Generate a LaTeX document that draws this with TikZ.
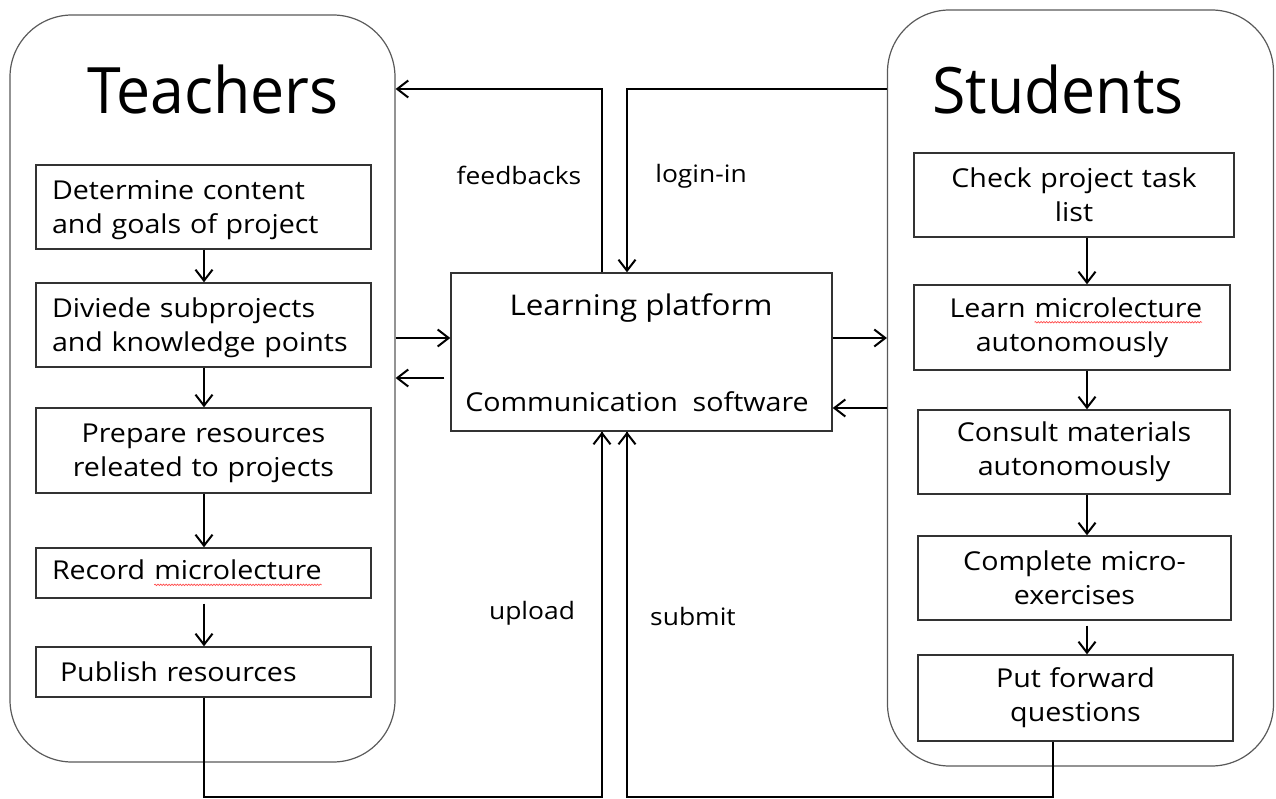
\documentclass[tikz,border=0pt]{standalone}
\usepackage{fontspec}
\setmainfont{Open Sans}[FakeStretch=1.1]
\newfontfamily\headfont{Open Sans}[FakeStretch=0.95]
\usetikzlibrary{arrows.meta,decorations.pathmorphing}

% red wavy spell-check mark under a word
\newcommand\spellmark[1]{\tikz[baseline=(sw.base)]{%
  \node[inner sep=0pt,outer sep=0pt,minimum width=0pt,minimum height=0pt,
        text width=,draw=none,anchor=base](sw){#1};%
  \draw[red!70!white,line width=0.7pt,decorate,
        decoration={snake,amplitude=0.7pt,segment length=2.8pt}]
    ([yshift=-5pt]sw.base west)--([yshift=-5pt]sw.base east);}}

\begin{document}
\begin{tikzpicture}[x=1pt,y=-1pt,
  lane/.style={draw=black!65,line width=1.2pt,rounded corners=62pt,inner sep=0pt},
  title/.style={font=\headfont\fontsize{64}{70}\selectfont,inner sep=0pt},
  stepbox/.style={draw=black!80,line width=1.4pt,inner sep=0pt,
    font=\fontsize{26}{34}\selectfont},
  lbl/.style={font=\fontsize{24}{28}\selectfont,inner sep=0pt},
  conn/.style={line width=2pt,-{Straight Barb[length=11pt,width=17pt,line width=2pt]}},
  wire/.style={line width=2pt}
]
\useasboundingbox (0,0) rectangle (1276,799);

% swimlanes
\node[lane,minimum width=385pt,minimum height=747pt] (teach) at (202.5,388.5) {};
\node[lane,minimum width=386pt,minimum height=756pt] (stud) at (1080.5,388) {};
\node[title] (tt) at (213,90) {Teachers};
\node[title] (st) at (1058,90) {Students};

% teacher steps
\node[stepbox,minimum width=335pt,minimum height=84pt,text width=303pt,
      align=left,inner xsep=16pt] (t1) at (203.5,207)
  {\rule{0pt}{25pt}Determine content\\and goals of project};
\node[stepbox,minimum width=335pt,minimum height=84pt,text width=303pt,
      align=left,inner xsep=16pt] (t2) at (203.5,325)
  {\rule{0pt}{25pt}Diviede subprojects\\and knowledge points};
\node[stepbox,minimum width=335pt,minimum height=85pt,text width=335pt,
      align=center] (t3) at (203.5,450.5)
  {\rule{0pt}{25pt}Prepare resources\\releated to projects};
\node[stepbox,minimum width=335pt,minimum height=50pt,text width=303pt,
      align=left,inner xsep=16pt] (t4) at (203.5,573)
  {Record \spellmark{microlecture}};
\node[stepbox,minimum width=335pt,minimum height=50pt,text width=287pt,
      align=left,inner xsep=24pt] (t5) at (203.5,672)
  {Publish resources};

% student steps
\node[stepbox,minimum width=320pt,minimum height=84pt,text width=320pt,
      align=center] (s1) at (1074,195)
  {Check project task\\list};
\node[stepbox,minimum width=316pt,minimum height=85pt,text width=316pt,
      align=center] (s2) at (1072,327.5)
  {\hspace*{8pt}Learn \spellmark{microlecture}\\autonomously};
\node[stepbox,minimum width=312pt,minimum height=84pt,text width=312pt,
      align=center] (s3) at (1074,452)
  {Consult materials\\autonomously};
\node[stepbox,minimum width=313pt,minimum height=84pt,text width=313pt,
      align=center] (s4) at (1074.5,578)
  {Complete micro-\\exercises};
\node[stepbox,minimum width=315pt,minimum height=86pt,text width=315pt,
      align=center] (s5) at (1075.5,698)
  {Put forward\\questions};

% platform
\node[stepbox,minimum width=381pt,minimum height=158pt] (ctr) at (641.5,352) {};
\node[font=\fontsize{28.5}{34}\selectfont,inner sep=0pt] (lp) at (641,308) {Learning platform};
\node[font=\fontsize{26}{34}\selectfont,inner sep=0pt] (cs) at (637,402) {Communication\ \ software};

% connector columns
\coordinate (tx) at (204,0);
\coordinate (sx) at (1087,0);
\coordinate (ux) at (602,0);
\coordinate (lx) at (627,0);
\coordinate (qx) at (1053,0);
\coordinate (topy) at (0,89);
\coordinate (boty) at (0,797);
\coordinate (ay) at (0,338);
\coordinate (by) at (0,378);
\coordinate (cy) at (0,408);

% step flows
\draw[conn] (t1.south -| tx) -- (t2.north -| tx);
\draw[conn] (t2.south -| tx) -- (t3.north -| tx);
\draw[conn] (t3.south -| tx) -- (t4.north -| tx);
\draw[conn,shorten <=5pt] (t4.south -| tx) -- (t5.north -| tx);
\draw[conn] (s1.south -| sx) -- (s2.north -| sx);
\draw[conn] (s2.south -| sx) -- (s3.north -| sx);
\draw[conn] (s3.south -| sx) -- (s4.north -| sx);
\draw[conn,shorten <=5pt] (s4.south -| sx) -- (s5.north -| sx);

% platform exchanges
\draw[conn] (ctr.north -| ux) |- (teach.east |- topy);
\draw[conn] (stud.west |- topy) -| (ctr.north -| lx);
\draw[conn] (teach.east |- ay) -- (ctr.west |- ay);
\draw[conn,shorten <=6pt] (ctr.west |- by) -- (teach.east |- by);
\draw[conn] (ctr.east |- ay) -- (stud.west |- ay);
\draw[conn] (stud.west |- cy) -- (ctr.east |- cy);
\draw[wire] (t5.south -| tx) -- (tx |- boty) -| (ux |- ctr.south);
\draw[conn] (ux |- boty) -- (ctr.south -| ux);
\draw[wire] (s5.south -| qx) -- (qx |- boty) -| (lx |- ctr.south);
\draw[conn] (lx |- boty) -- (ctr.south -| lx);

% labels
\node[lbl] (fb) at (519,175) {feedbacks};
\node[lbl] (li) at (701,176) {login-in};
\node[lbl] (up) at (532,613) {upload};
\node[lbl] (sb) at (693,616) {submit};
\end{tikzpicture}
\end{document}
